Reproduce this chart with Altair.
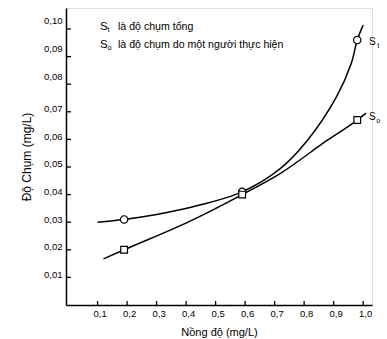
import altair as alt
import pandas as pd

# ---- data ----
conc_marks = [0.19, 0.59, 0.98]          # Nồng độ at the plotted markers
st_marks = [0.031, 0.041, 0.096]         # S_t (circles)
so_marks = [0.020, 0.040, 0.067]         # S_o (squares)

st_curve_x = [0.10, 0.19, 0.30, 0.42, 0.59, 0.72, 0.81, 0.91, 0.96, 0.98, 1.00]
st_curve_y = [0.0300, 0.031, 0.0328, 0.0355, 0.041, 0.0495, 0.0595, 0.0755, 0.0876, 0.096, 0.1014]
so_curve_x = [0.12, 0.19, 0.41, 0.59, 0.72, 0.88, 0.98, 1.01]
so_curve_y = [0.0167, 0.020, 0.0302, 0.040, 0.0477, 0.0598, 0.067, 0.0695]

x_ticks = [0.1, 0.2, 0.3, 0.4, 0.5, 0.6, 0.7, 0.8, 0.9, 1.0]
y_ticks = [0.01, 0.02, 0.03, 0.04, 0.05, 0.06, 0.07, 0.08, 0.09, 0.10]

legend_st = "là độ chụm tổng"
legend_so = "là độ chụm do một người thực hiện"

FONT = "Liberation Sans"
W, H = 306, 297

st_curve = pd.DataFrame({"x": st_curve_x, "y": st_curve_y})
so_curve = pd.DataFrame({"x": so_curve_x, "y": so_curve_y})
st_pts_df = pd.DataFrame({"x": conc_marks, "y": st_marks})
so_pts_df = pd.DataFrame({"x": conc_marks, "y": so_marks})
xt = pd.DataFrame({"x": x_ticks})
yt = pd.DataFrame({"y": y_ticks})

xscale = alt.Scale(domain=[-0.007, 1.03], nice=False, zero=False)
yscale = alt.Scale(domain=[0, 0.1076], nice=False, zero=False)

x_axis = alt.Axis(
    values=x_ticks, labelExpr="replace(format(datum.value,'.1f'),'.',',')",
    ticks=False, grid=False, domainColor="black", domainWidth=1.5,
    labelFont=FONT, labelFontSize=9.5, labelColor="black", labelPadding=3, labelOffset=2,
    title="Nồng độ (mg/L)", titleFont=FONT, titleFontSize=11, titleFontWeight="normal",
    titleColor="black", titlePadding=9,
)
y_axis = alt.Axis(
    values=y_ticks, labelExpr="replace(format(datum.value,'.2f'),'.',',')",
    ticks=False, grid=False, domainColor="black", domainWidth=1.5,
    labelFont=FONT, labelFontSize=9.5, labelColor="black", labelPadding=4,
    labelBaseline="middle",
    labelOffset={"condition": {"test": "datum.value >= 0.075", "value": -8}, "value": -3},
    title="Độ Chụm (mg/L)", titleFont=FONT, titleFontSize=12, titleFontWeight="normal",
    titleColor="black", titlePadding=10,
)

X = alt.X("x:Q", scale=xscale, axis=x_axis)
Y = alt.Y("y:Q", scale=yscale, axis=y_axis)

st_line = alt.Chart(st_curve).mark_line(interpolate="catmull-rom", color="black", strokeWidth=1.5).encode(x=X, y=Y)
so_line = alt.Chart(so_curve).mark_line(interpolate="monotone", color="black", strokeWidth=1.5).encode(x=X, y=Y)
st_pts = alt.Chart(st_pts_df).mark_point(shape="circle", filled=True, fill="white", stroke="black",
                                         strokeWidth=1.2, size=55, opacity=1).encode(x=X, y=Y)
so_pts = alt.Chart(so_pts_df).mark_point(shape="square", filled=True, fill="white", stroke="black",
                                         strokeWidth=1.2, size=45, opacity=1).encode(x=X, y=Y)

# inward ticks
x_tick_marks = alt.Chart(xt).mark_rule(color="black", strokeWidth=1.3).encode(
    x=X, y=alt.value(H), y2=alt.value(H - 4),
)
y_tick_marks = alt.Chart(yt).mark_rule(color="black", strokeWidth=1.3).encode(
    y=Y, x=alt.value(0), x2=alt.value(5),
)

# end labels at last markers
st_last = st_pts_df.tail(1)
so_last = so_pts_df.tail(1)

def end_label(df, t, size, dx, dy):
    return alt.Chart(df).mark_text(text=t, font=FONT, fontSize=size, dx=dx, dy=dy,
                                   baseline="middle", color="black").encode(x=X, y=Y)

st_S = end_label(st_last, "S", 10, 15, 2)
st_sub = end_label(st_last, "t", 7, 21, 6)
so_S = end_label(so_last, "S", 10, 15, -3)
so_sub = end_label(so_last, "o", 7, 21, 1)

# legend text at top
def txt(t, x, y, size):
    return alt.Chart(pd.DataFrame({"a": [0]})).mark_text(
        text=t, font=FONT, fontSize=size, align="left", baseline="alphabetic", color="black"
    ).encode(x=alt.value(x), y=alt.value(y))

legend = (
    txt("S", 34, 22, 11.5) + txt("t", 41.5, 24, 7.5) + txt(legend_st, 52, 22, 10.6)
    + txt("S", 34, 40, 11.5) + txt("o", 41.5, 42, 7.5) + txt(legend_so, 52, 40, 10.6)
)

chart = alt.layer(
    st_line, so_line, x_tick_marks, y_tick_marks, st_pts, so_pts,
    st_S, st_sub, so_S, so_sub, legend,
).properties(
    width=W, height=H,
    autosize=alt.AutoSizeParams(type="none"),
    padding={"left": 66, "top": 8, "right": 15, "bottom": 34},
).configure_view(stroke=None).configure(background="white")

chart.save("out.html", embed_options={"renderer": "svg", "actions": False})
